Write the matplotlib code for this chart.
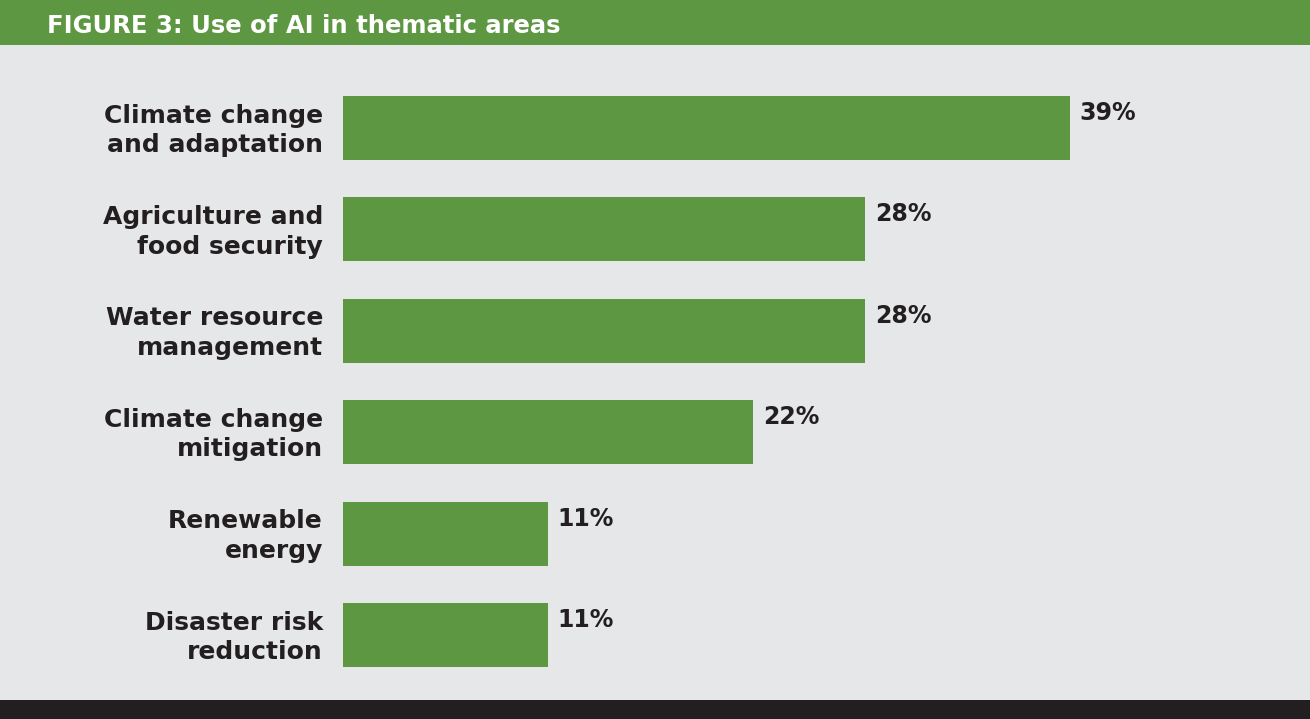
import matplotlib.pyplot as plt
from matplotlib.patches import Rectangle
from matplotlib.transforms import ScaledTranslation

# Share of respondents using AI in each thematic area (%)
areas = [
    "Climate change\nand adaptation",
    "Agriculture and\nfood security",
    "Water resource\nmanagement",
    "Climate change\nmitigation",
    "Renewable\nenergy",
    "Disaster risk\nreduction",
]
shares = [39, 28, 28, 22, 11, 11]

title = "FIGURE 3: Use of AI in thematic areas"

green = "#5d9741"
bg = "#e6e7e8"
dark = "#231f20"

W, H = 1310, 719
fig = plt.figure(figsize=(W / 100, H / 100), dpi=100, facecolor=bg)

# header band and footer strip
fig.patches.append(Rectangle((0, 1 - 45 / H), 1, 45 / H, transform=fig.transFigure,
                             facecolor=green, edgecolor="none", zorder=0))
fig.patches.append(Rectangle((0, 0), 1, 19 / H, transform=fig.transFigure,
                             facecolor=dark, edgecolor="none", zorder=0))
fig.text(47 / W, 1 - 26 / H, title, color="white", fontsize=17.5,
         fontweight="bold", va="center", ha="left")

# axes placed so bars start at x=343px and the 39% bar ends at x=1070px
top_px, bot_px = 77.3, 685.7
ax = fig.add_axes([343 / W, 1 - bot_px / H, (1070 - 343) / W, (bot_px - top_px) / H])
ax.set_facecolor("none")

ypos = list(range(len(areas)))
ax.barh(ypos, shares, height=0.63, color=green, edgecolor="none")
ax.set_xlim(0, 39)
ax.set_ylim(len(areas) - 0.5, -0.5)

for y, v in zip(ypos, shares):
    ax.annotate(f"{v}%", xy=(v, y - 0.315), xytext=(7, -12.2),
                textcoords="offset points", ha="left", va="center",
                fontsize=17, fontweight="bold", color=dark,
                annotation_clip=False)

ax.set_yticks(ypos)
ax.set_yticklabels(areas, fontsize=18, fontweight="bold", color=dark,
                   linespacing=1.3)
ax.tick_params(axis="y", length=0, pad=14.4)
# nudge the two-line labels up a little
lift = ScaledTranslation(0, 3 / 100, fig.dpi_scale_trans)
for lab in ax.get_yticklabels():
    lab.set_transform(lab.get_transform() + lift)
ax.set_xticks([])
for s in ax.spines.values():
    s.set_visible(False)

fig.savefig("out.png", dpi=100, facecolor=bg)
